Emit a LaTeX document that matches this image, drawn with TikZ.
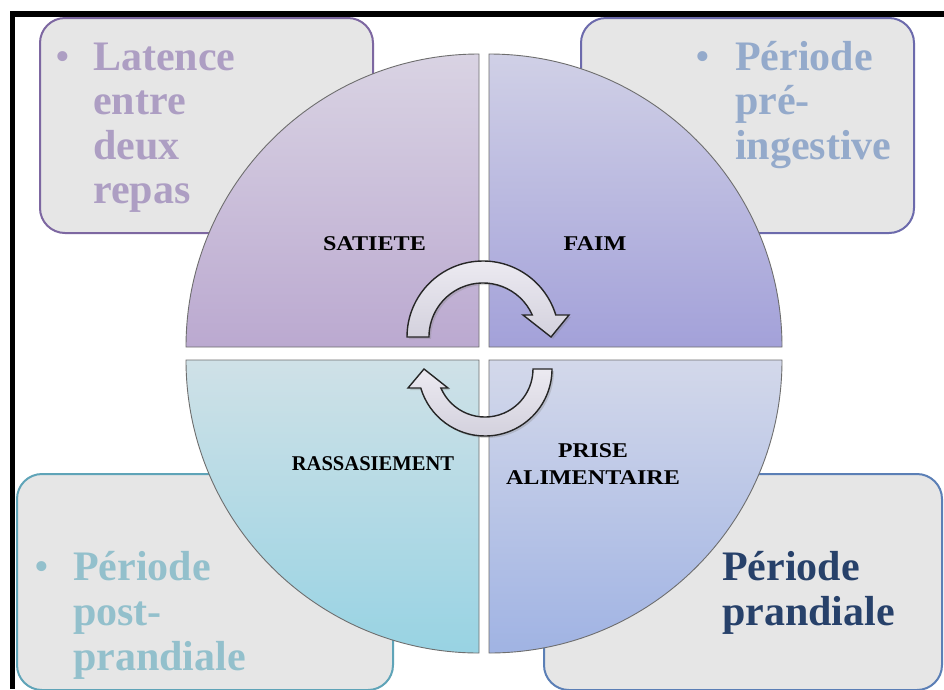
\documentclass[tikz,border=0pt]{standalone}
\usepackage{fontspec}
\usepackage{graphicx}
\setmainfont{Liberation Serif}
\usetikzlibrary{shadows}
\definecolor{boxgray}{HTML}{E6E6E6}
\definecolor{tlline}{HTML}{7D67A1}
\definecolor{tltext}{HTML}{AD9EC3}
\definecolor{trline}{HTML}{6C6AAC}
\definecolor{trtext}{HTML}{94AACB}
\definecolor{blline}{HTML}{5FA4B8}
\definecolor{bltext}{HTML}{93C0CC}
\definecolor{brline}{HTML}{5B7FB6}
\definecolor{brtext}{HTML}{27416A}
\definecolor{tltop}{HTML}{D9D3E3}
\definecolor{tlbot}{HTML}{BBA9D0}
\definecolor{trtop}{HTML}{D0D0E6}
\definecolor{trbot}{HTML}{A3A1D9}
\definecolor{bltop}{HTML}{CFE1E7}
\definecolor{blbot}{HTML}{98D3E3}
\definecolor{brtop}{HTML}{D3D8EA}
\definecolor{brbot}{HTML}{A0B3E3}
\definecolor{quadline}{HTML}{6E6E6E}
\definecolor{arrtop}{HTML}{ECEAF1}
\definecolor{arrbot}{HTML}{D3D1DD}
\begin{document}
\begin{tikzpicture}[x=1pt,y=1pt,
  box/.style={rounded corners=25pt, line width=2pt, fill=boxgray},
  quad/.style={draw=quadline, line width=0.9pt},
  lbl/.style={font=\fontsize{21}{24}\selectfont\bfseries, text=black, anchor=base, inner sep=0pt},
  big/.style={font=\fontsize{42}{46}\selectfont\bfseries, anchor=base west, inner sep=0pt},
  bul/.style={font=\fontsize{42}{46}\selectfont, anchor=base west, inner sep=0pt},
  arr/.style={draw=black!85, line width=1.4pt, top color=arrtop, bottom color=arrbot,
    drop shadow={opacity=0.3, shadow xshift=2pt, shadow yshift=-2pt}}
]
\useasboundingbox (0,0) rectangle (944,-689);
\fill[white] (0,0) rectangle (944,-689);
% frame
\fill[black] (10,-11) rectangle (944,-17);
\fill[black] (10,-11) rectangle (15,-689);
% boxes
\draw[box, draw=tlline] (40,-18) rectangle (373,-233);
\draw[box, draw=trline] (581,-18) rectangle (914,-233);
\draw[box, draw=blline] (17,-474) rectangle (393,-690);
\draw[box, draw=brline] (544,-474) rectangle (942,-690);
% box texts
\node[bul, text=tltext] (b1) at (55.6,-70) {•};
\node[big, text=tltext] (t1a) at (93,-70) {Latence};
\node[big, text=tltext] (t1b) at (93,-114.5) {entre};
\node[big, text=tltext] (t1c) at (93,-159) {deux};
\node[big, text=tltext] (t1d) at (93,-203) {repas};
\node[bul, text=trtext] (b2) at (695.6,-70) {•};
\node[big, text=trtext] (t2a) at (735,-70) {Période};
\node[big, text=trtext] (t2b) at (735,-114.5) {pré-};
\node[big, text=trtext] (t2c) at (735,-159) {ingestive};
\node[bul, text=bltext] (b3) at (34.6,-580) {•};
\node[big, text=bltext] (t3a) at (73,-580) {Période};
\node[big, text=bltext] (t3b) at (73,-625) {post-};
\node[big, text=bltext] (t3c) at (73,-670) {prandiale};
\node[big, text=brtext] (t4a) at (722,-580) {Période};
\node[big, text=brtext] (t4b) at (722,-625) {prandiale};
% quadrants
\path[quad, top color=tltop, bottom color=tlbot] (479,-347) -- (186,-347) arc[start angle=180,end angle=90,radius=293] -- cycle;
\path[quad, top color=trtop, bottom color=trbot] (489,-347) -- (489,-54) arc[start angle=90,end angle=0,radius=293] -- cycle;
\path[quad, top color=bltop, bottom color=blbot] (479,-360) -- (186,-360) arc[start angle=180,end angle=270,radius=293] -- cycle;
\path[quad, top color=brtop, bottom color=brbot] (489,-360) -- (782,-360) arc[start angle=0,end angle=-90,radius=293] -- cycle;
% labels
\node[lbl] (satiete) at (374.5,-250) {\scalebox{1.15}[1]{SATIETE}};
\node[lbl] (faim) at (595,-250) {\scalebox{1.15}[1]{FAIM}};
\node[lbl] (rass) at (373,-470) {\scalebox{0.98}[1]{RASSASIEMENT}};
\node[lbl] (prise) at (593,-457) {\scalebox{1.13}[1]{PRISE}};
\node[lbl] (alim) at (593,-484) {\scalebox{1.15}[1]{ALIMENTAIRE}};
% cycle arrows
\path[arr] (407,-337) arc[start angle=180,end angle=16.8,radius=76] -- (569,-315) -- (551,-337) -- (523,-315) -- (532.3,-315) arc[start angle=24,end angle=180,radius=54] -- cycle;
\path[arr] (552,-369) arc[start angle=0,end angle=-163.5,radius=67] -- (408,-388) -- (424,-369) -- (448,-388) -- (440.9,-388) arc[start angle=-156.7,end angle=0,radius=48] -- cycle;
\end{tikzpicture}
\end{document}
